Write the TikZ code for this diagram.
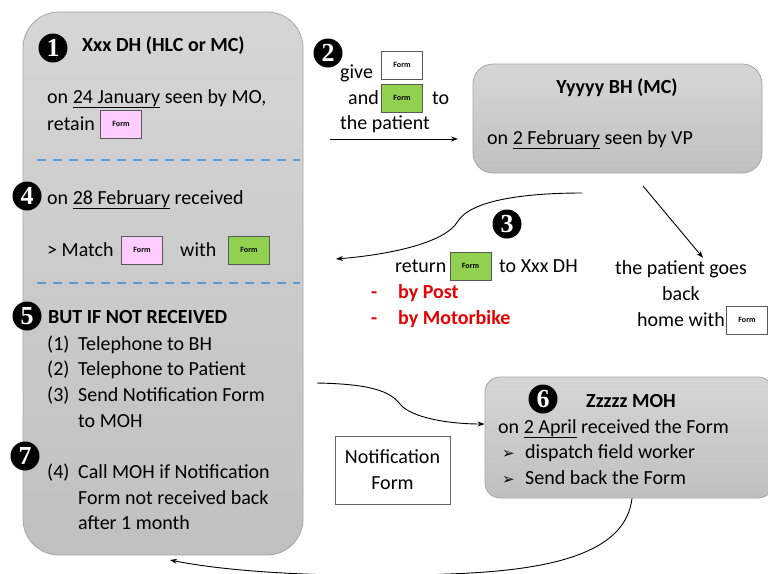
\documentclass[tikz,border=0pt]{standalone}
\usepackage{fontspec}
\setmainfont{Carlito}
\newfontfamily\numfont{Liberation Serif}
\newfontfamily\dejavu{DejaVu Sans}
\usetikzlibrary{arrows.meta}
\definecolor{boxtop}{RGB}{214,214,214}
\definecolor{boxbot}{RGB}{192,192,192}
\definecolor{boxedge}{RGB}{165,165,165}
\definecolor{dashblue}{RGB}{91,155,213}
\definecolor{formpink}{RGB}{255,204,255}
\definecolor{formgreen}{RGB}{146,208,80}
\definecolor{redtxt}{RGB}{232,0,0}
\begin{document}
\begin{tikzpicture}[x=1pt,y=-1pt,
  txt/.style={anchor=west,inner sep=0pt,text height=16pt,text depth=4pt,font=\fontsize{20}{22}\selectfont},
  ctxt/.style={txt,anchor=center},
  btxt/.style={txt,font=\fontsize{20}{22}\selectfont\bfseries},
  rtxt/.style={btxt,text=redtxt},
  graybox/.style={draw=boxedge,line width=0.8pt,top color=boxtop,bottom color=boxbot},
  formbox/.style={draw=black!65,line width=1pt,minimum width=41pt,minimum height=28pt,inner sep=0pt,font=\fontsize{8}{8}\selectfont\bfseries},
  num/.style={circle,fill=black,inner sep=0pt,minimum size=29pt,text=white,font=\numfont\bfseries\fontsize{26}{26}\selectfont},
  dashline/.style={draw=dashblue,line width=2pt,dash pattern=on 9pt off 7pt},
  arr/.style={draw=black,line width=0.9pt,-{Stealth[length=7pt,width=5pt]}}
]
\useasboundingbox (0,0) rectangle (768,573);

% main left box
\node[graybox,rounded corners=36pt,minimum width=280pt,minimum height=543pt,inner sep=0pt] (dh) at (163,283.5) {};
\draw[dashline] (37,160) -- (300,160);
\draw[dashline] (37,283) -- (300,283);

% step 1
\node[num] (n1) at (53,48) {1};
\node[btxt] (t1) at (82,45) {Xxx DH (HLC or MC)};
\node[txt] (t1a) at (47,97) {on \underline{24 January} seen by MO,};
\node[txt] (t1b) at (47,124) {retain};
\node[formbox,fill=formpink] (f1) at (121,124) {Form};

% step 4
\node[num] (n4) at (27,196) {4};
\node[txt] (t4a) at (47,198) {on \underline{28 February} received};
\node[txt] (t4b) at (47,250) {> Match};
\node[formbox,fill=formpink] (f4a) at (142,250) {Form};
\node[txt] (t4c) at (180,250) {with};
\node[formbox,fill=formgreen] (f4b) at (249,250) {Form};

% step 5
\node[num] (n5) at (27,316) {5};
\node[btxt] (t5) at (48,317) {BUT IF NOT RECEIVED};
\node[txt] (t51) at (47,344) {(1)};
\node[txt] (t51b) at (78,344) {Telephone to BH};
\node[txt] (t52) at (47,369) {(2)};
\node[txt] (t52b) at (78,369) {Telephone to Patient};
\node[txt] (t53) at (47,395) {(3)};
\node[txt] (t53b) at (78,395) {Send Notification Form};
\node[txt] (t53c) at (78,421) {to MOH};

% step 7
\node[num] (n7) at (25,456) {7};
\node[txt] (t74) at (47,472) {(4)};
\node[txt] (t74b) at (78,472) {Call MOH if Notification};
\node[txt] (t74c) at (78,498) {Form not received back};
\node[txt] (t74d) at (78,523) {after 1 month};

% BH box
\node[graybox,rounded corners=20pt,minimum width=289pt,minimum height=109pt,inner sep=0pt] (bh) at (617.5,118.5) {};
\node[btxt,anchor=center] (tbh) at (617,87) {Yyyyy BH (MC)};
\node[txt] (tbh2) at (487,138) {on \underline{2 February} seen by VP};

% step 2
\node[num] (n2) at (328,53) {2};
\node[txt] (t2a) at (340,72) {give};
\node[formbox,fill=white] (f2a) at (402,65) {Form};
\node[txt] (t2b) at (348,98) {and};
\node[formbox,fill=formgreen] (f2b) at (402,98) {Form};
\node[txt] (t2c) at (432,98) {to};
\node[txt] (t2d) at (340,123) {the patient};
\coordinate (a2s) at (330,139);
\coordinate (a2e) at (458,139);
\draw[arr] (a2s) -- (a2e);

% step 3
\node[num] (n3) at (507,224) {3};
\coordinate (a3s) at (582,193);
\coordinate (a3e) at (336,259);
\draw[arr] (a3s) .. controls (530,193) and (472,199) .. (458,221) .. controls (445,244) and (385,255) .. (a3e);
\node[txt] (t3a) at (395,266) {return};
\node[formbox,fill=formgreen] (f3) at (470.5,266) {Form};
\node[txt] (t3b) at (499,266) {to Xxx DH};
\node[rtxt] (t3c) at (371,292) {-};
\node[rtxt] (t3d) at (398,292) {by Post};
\node[rtxt] (t3e) at (371,318) {-};
\node[rtxt] (t3f) at (398,318) {by Motorbike};

% patient goes home
\node[ctxt] (tp1) at (681,268) {the patient goes};
\node[ctxt] (tp2) at (681,294) {back};
\node[txt] (tp3) at (637,320) {home with};
\node[formbox,fill=white] (fp) at (747,320) {Form};
\coordinate (aps) at (643,186);
\draw[arr] (aps) -- (tp1.north -| 703,0);

% MOH box
\node[graybox,rounded corners=15pt,minimum width=288pt,minimum height=121pt,inner sep=0pt] (moh) at (629,437.5) {};
\node[num] (n6) at (543,399) {6};
\node[btxt] (tm1) at (586,401) {Zzzzz MOH};
\node[txt] (tm2) at (498,427) {on \underline{2 April} received the Form};
\node[txt] (tm3) at (502,452) {{\dejavu\fontsize{15}{15}\selectfont ➢}};
\node[txt] (tm3b) at (525,452) {dispatch field worker};
\node[txt] (tm4) at (502,478) {{\dejavu\fontsize{15}{15}\selectfont ➢}};
\node[txt] (tm4b) at (525,478) {Send back the Form};

% Notification form
\node[draw=black!60,fill=white,line width=0.8pt,minimum width=115pt,minimum height=68pt,align=center,inner sep=0pt,font=\fontsize{20}{26}\selectfont] (nf) at (392.5,470) {Notification\\Form};

% arrow to MOH
\coordinate (a6s) at (317,383);
\draw[arr] (a6s) .. controls (370,384) and (390,391) .. (400,404) .. controls (411,418) and (450,424) .. (moh.west |- 0,424);

% return arrow to DH
\coordinate (a7e) at (170,560);
\draw[arr] (moh.south -| 632,0) .. controls (626,550) and (560,568) .. (470,573) .. controls (380,578) and (250,576) .. (a7e);
\end{tikzpicture}
\end{document}
